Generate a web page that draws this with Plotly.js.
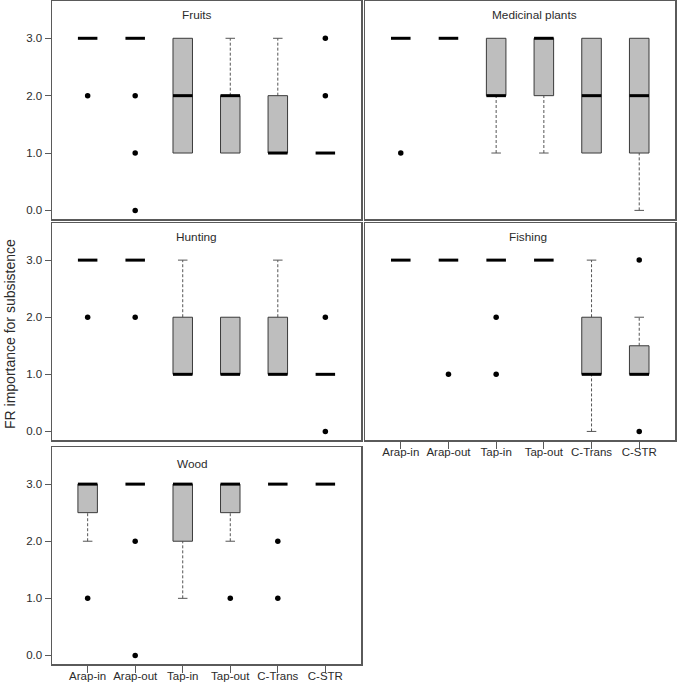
<!DOCTYPE html>
<html>
<head>
<meta charset="utf-8">
<script src="https://cdn.plot.ly/plotly-3.0.1.min.js"></script>
<style>html,body{margin:0;padding:0;background:#fff;}#chart{width:677px;height:685px;}</style>
</head>
<body>
<div id="chart"></div>
<script>
// ---- data ----
const categories = ['Arap-in', 'Arap-out', 'Tap-in', 'Tap-out', 'C-Trans', 'C-STR'];
const yTickVals = [0, 1, 2, 3];
const yTickText = ['0.0', '1.0', '2.0', '3.0'];
const yTitle = 'FR importance for subsistence';

const fruitsQ1  = [3, 3, 1, 1, 1, 1];
const fruitsMed = [3, 3, 2, 2, 1, 1];
const fruitsQ3  = [3, 3, 3, 2, 2, 1];
const fruitsLo  = [3, 3, 1, 1, 1, 1];
const fruitsHi  = [3, 3, 3, 3, 3, 1];
const fruitsOut = [[2], [2, 1, 0], [], [], [], [2, 3]];

const mediQ1  = [3, 3, 2, 2, 1, 1];
const mediMed = [3, 3, 2, 3, 2, 2];
const mediQ3  = [3, 3, 3, 3, 3, 3];
const mediLo  = [3, 3, 1, 1, 1, 0];
const mediHi  = [3, 3, 3, 3, 3, 3];
const mediOut = [[1], [], [], [], [], []];

const huntQ1  = [3, 3, 1, 1, 1, 1];
const huntMed = [3, 3, 1, 1, 1, 1];
const huntQ3  = [3, 3, 2, 2, 2, 1];
const huntLo  = [3, 3, 1, 1, 1, 1];
const huntHi  = [3, 3, 3, 2, 3, 1];
const huntOut = [[2], [2], [], [], [], [2, 0]];

const fishQ1  = [3, 3, 3, 3, 1, 1];
const fishMed = [3, 3, 3, 3, 1, 1];
const fishQ3  = [3, 3, 3, 3, 2, 1.5];
const fishLo  = [3, 3, 3, 3, 0, 1];
const fishHi  = [3, 3, 3, 3, 3, 2];
const fishOut = [[], [1], [2, 1], [], [], [3, 0]];

const woodQ1  = [2.5, 3, 2, 2.5, 3, 3];
const woodMed = [3, 3, 3, 3, 3, 3];
const woodQ3  = [3, 3, 3, 3, 3, 3];
const woodLo  = [2, 3, 1, 2, 3, 3];
const woodHi  = [3, 3, 3, 3, 3, 3];
const woodOut = [[1], [2, 0], [], [1], [2, 1], []];

const panels = [
  {title: 'Fruits',           q1: fruitsQ1, med: fruitsMed, q3: fruitsQ3, lo: fruitsLo, hi: fruitsHi, out: fruitsOut},
  {title: 'Medicinal plants', q1: mediQ1,   med: mediMed,   q3: mediQ3,   lo: mediLo,   hi: mediHi,   out: mediOut},
  {title: 'Hunting',          q1: huntQ1,   med: huntMed,   q3: huntQ3,   lo: huntLo,   hi: huntHi,   out: huntOut},
  {title: 'Fishing',          q1: fishQ1,   med: fishMed,   q3: fishQ3,   lo: fishLo,   hi: fishHi,   out: fishOut},
  {title: 'Wood',             q1: woodQ1,   med: woodMed,   q3: woodQ3,   lo: woodLo,   hi: woodHi,   out: woodOut}
];

// ---- styling / layout ----
const W = 677, H = 685;
const FONT = 'Arial, "Liberation Sans", sans-serif';
const HW = 0.205;       // half box width (data units)
const CAP = 0.1;        // half cap width
const boxFill = '#bebebe', boxLine = '#3a3a3a', whiskColor = '#555', frame = '#5a5a5a';

// pixel frames of each panel [left, right, top, bottom]
const frames = [
  [52, 361, 1, 219],
  [365, 675, 1, 219],
  [52, 361, 223, 440],
  [365, 675, 223, 440],
  [52, 361, 447, 664]
];
const titlePos = [[2.30, 3.41], [2.81, 3.41], [2.30, 3.40], [2.67, 3.40], [2.20, 3.35]];
const showYLabels = [true, false, true, false, true];
const showXLabels = [false, false, false, true, true];

const traces = [];
const layout = {
  width: W, height: H,
  margin: {l: 0, r: 0, t: 0, b: 0},
  paper_bgcolor: '#fff', plot_bgcolor: '#fff',
  showlegend: false, hovermode: false,
  font: {family: FONT, size: 11.5, color: '#2b2b2b'},
  annotations: []
};

panels.forEach((p, k) => {
  const sfx = k === 0 ? '' : String(k + 1);
  const xa = 'x' + sfx, ya = 'y' + sfx;
  const fr = frames[k];
  layout['xaxis' + sfx] = {
    domain: [fr[0] / W, fr[1] / W], anchor: ya,
    range: [-0.75, 5.75], showgrid: false, zeroline: false,
    showline: true, mirror: true, linecolor: frame, linewidth: 1.5,
    tickvals: categories.map((c, i) => i), ticktext: categories,
    ticks: showXLabels[k] ? 'outside' : '', ticklen: 7, tickwidth: 1, tickcolor: frame,
    showticklabels: showXLabels[k], ticklabelstandoff: -6,
    tickfont: {family: FONT, size: 11.5, color: '#2b2b2b'}
  };
  layout['yaxis' + sfx] = {
    domain: [1 - fr[3] / H, 1 - fr[2] / H], anchor: xa,
    range: [-0.15, 3.65], showgrid: false, zeroline: false,
    showline: true, mirror: true, linecolor: frame, linewidth: 1.5,
    tickvals: yTickVals, ticktext: yTickText,
    ticks: showYLabels[k] ? 'outside' : '', ticklen: 6, tickwidth: 1, tickcolor: frame,
    showticklabels: showYLabels[k],
    tickfont: {family: FONT, size: 11.5, color: '#2b2b2b'}
  };

  // whiskers (dashed)
  const wx = [], wy = [], cx = [], cy = [];
  categories.forEach((c, i) => {
    if (p.hi[i] > p.q3[i]) {
      wx.push(i, i, null); wy.push(p.q3[i], p.hi[i], null);
      cx.push(i - CAP, i + CAP, null); cy.push(p.hi[i], p.hi[i], null);
    }
    if (p.lo[i] < p.q1[i]) {
      wx.push(i, i, null); wy.push(p.lo[i], p.q1[i], null);
      cx.push(i - CAP, i + CAP, null); cy.push(p.lo[i], p.lo[i], null);
    }
  });
  traces.push({type: 'scatter', mode: 'lines', xaxis: xa, yaxis: ya, x: wx, y: wy,
    line: {color: whiskColor, width: 1, dash: '3px,2px'}, hoverinfo: 'skip'});
  traces.push({type: 'scatter', mode: 'lines', xaxis: xa, yaxis: ya, x: cx, y: cy,
    line: {color: whiskColor, width: 1}, hoverinfo: 'skip'});

  // boxes
  categories.forEach((c, i) => {
    if (p.q3[i] > p.q1[i]) {
      traces.push({type: 'scatter', mode: 'lines', xaxis: xa, yaxis: ya, fill: 'toself',
        fillcolor: boxFill,
        x: [i - HW, i + HW, i + HW, i - HW, i - HW],
        y: [p.q1[i], p.q1[i], p.q3[i], p.q3[i], p.q1[i]],
        line: {color: boxLine, width: 1}, hoverinfo: 'skip'});
    }
  });

  // medians
  const mx = [], my = [];
  categories.forEach((c, i) => { mx.push(i - HW, i + HW, null); my.push(p.med[i], p.med[i], null); });
  traces.push({type: 'scatter', mode: 'lines', xaxis: xa, yaxis: ya, x: mx, y: my,
    line: {color: '#000', width: 3}, hoverinfo: 'skip'});

  // outliers
  const ox = [], oy = [];
  categories.forEach((c, i) => p.out[i].forEach(v => { ox.push(i); oy.push(v); }));
  traces.push({type: 'scatter', mode: 'markers', xaxis: xa, yaxis: ya, x: ox, y: oy,
    marker: {color: '#000', size: 5.5}, hoverinfo: 'skip'});

  layout.annotations.push({xref: xa, yref: ya, x: titlePos[k][0], y: titlePos[k][1],
    text: p.title, showarrow: false, xanchor: 'center', yanchor: 'middle',
    font: {family: FONT, size: 11.8, color: '#2b2b2b'}});
});

layout.annotations.push({xref: 'paper', yref: 'paper', x: 10 / W, y: 1 - 334 / H,
  text: yTitle, textangle: -90, showarrow: false, xanchor: 'center', yanchor: 'middle',
  font: {family: FONT, size: 14, color: '#2b2b2b'}});

Plotly.newPlot('chart', traces, layout, {displayModeBar: false, staticPlot: true});
</script>
</body>
</html>
